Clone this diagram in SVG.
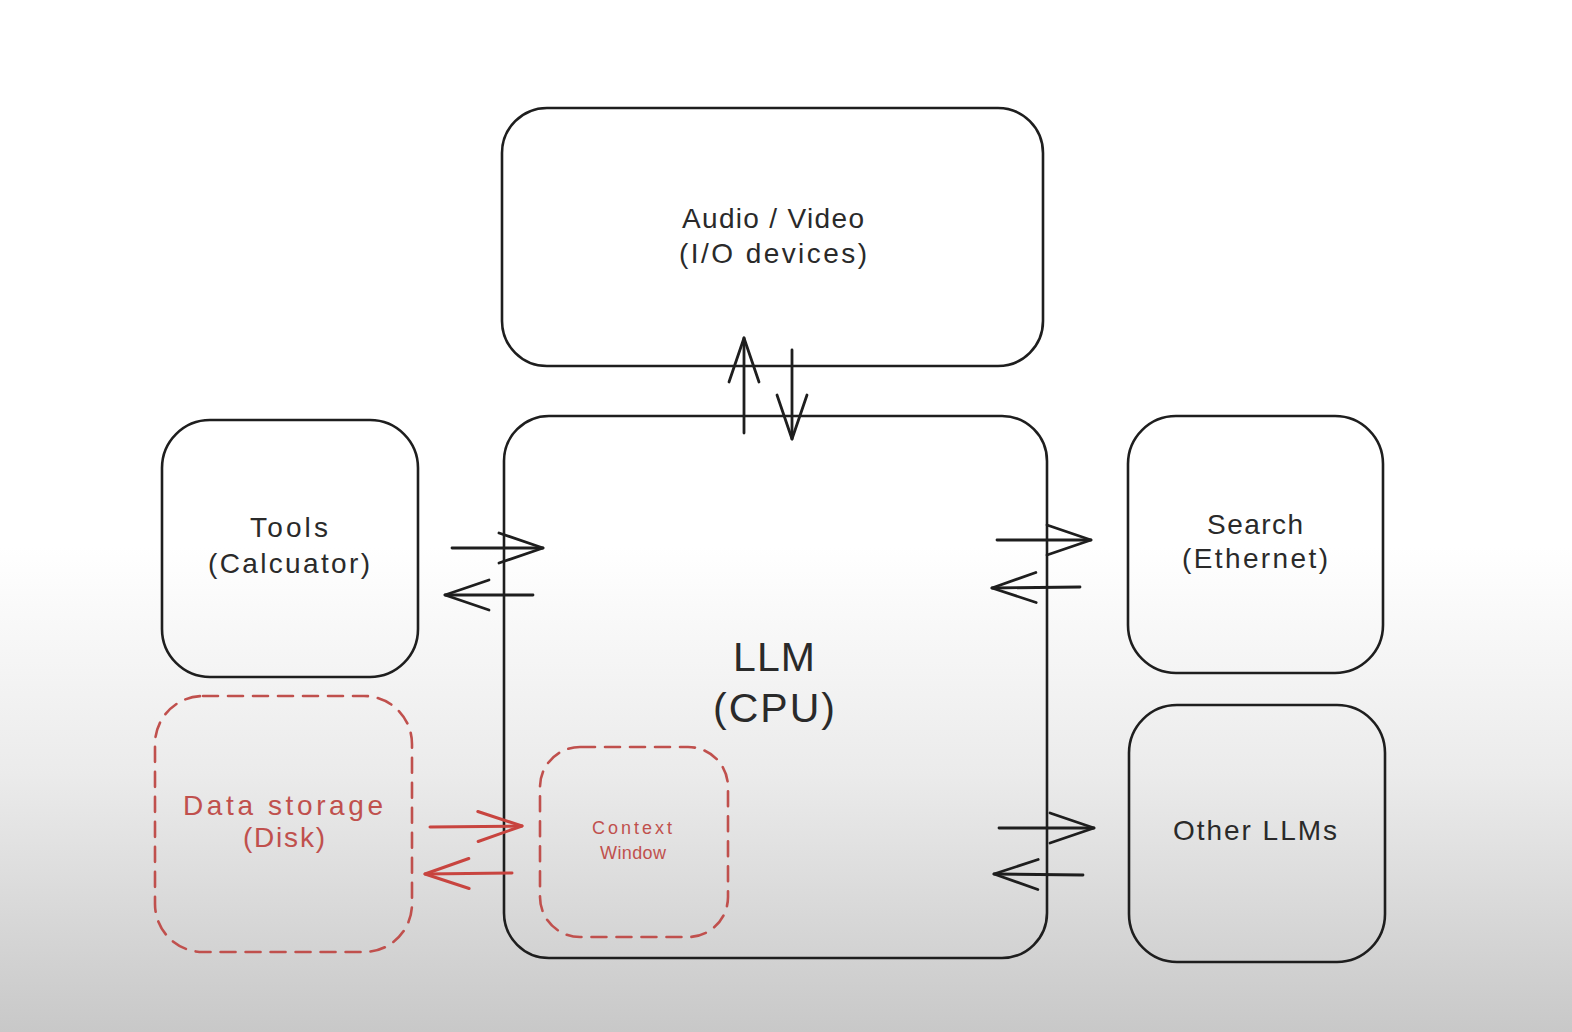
<svg xmlns="http://www.w3.org/2000/svg" width="1572" height="1032" viewBox="0 0 1572 1032">
<style>
.box{fill:none;stroke:#1e1e1e;stroke-width:2.6}
.dbox{fill:none;stroke:#c0504d;stroke-width:2.6;stroke-dasharray:15 10;stroke-linecap:round}
.t{font-family:"Liberation Sans",Arial,sans-serif;font-size:28px;fill:#2a2a2a;text-anchor:middle}
.big{font-size:41px}
.red{fill:#c0504d}
.small{font-size:18px}
.ln{fill:none;stroke:#1e1e1e;stroke-width:2.8;stroke-linecap:round}
.rln{fill:none;stroke:#c8443f;stroke-width:3;stroke-linecap:round}
</style>
<defs>
<linearGradient id="bg" x1="0" y1="0" x2="0" y2="1">
<stop offset="0" stop-color="#ffffff"/>
<stop offset="0.53" stop-color="#ffffff"/>
<stop offset="0.75" stop-color="#ebebeb"/>
<stop offset="1" stop-color="#c8c8c8"/>
</linearGradient>
<marker id="ah" markerUnits="userSpaceOnUse" viewBox="-50 -20 54 40" markerWidth="54" markerHeight="40" refX="0" refY="0" orient="auto">
<path d="M-44,-15 L0,0 L-44,15" fill="none" stroke="#1e1e1e" stroke-width="2.8" stroke-linecap="round" stroke-linejoin="round"/>
</marker>
<marker id="ahr" markerUnits="userSpaceOnUse" viewBox="-50 -20 54 40" markerWidth="54" markerHeight="40" refX="0" refY="0" orient="auto">
<path d="M-44,-15 L0,0 L-44,15" fill="none" stroke="#c8443f" stroke-width="3" stroke-linecap="round" stroke-linejoin="round"/>
</marker>
</defs>
<rect x="0" y="0" width="1572" height="1032" fill="url(#bg)"/>

<g id="audio-video">
<rect class="box" x="502" y="108" width="541" height="258" rx="45"/>
<text class="t" x="773" y="228" textLength="182">Audio / Video</text>
<text class="t" x="773" y="263" textLength="188">(I/O devices)</text>
</g>

<g id="llm">
<rect class="box" x="504" y="416" width="543" height="542" rx="45"/>
<text class="t big" x="774" y="671" textLength="82">LLM</text>
<text class="t big" x="774" y="722" textLength="122">(CPU)</text>
</g>

<g id="tools">
<rect class="box" x="162" y="420" width="256" height="257" rx="48"/>
<text class="t" x="289" y="537" textLength="78">Tools</text>
<text class="t" x="289" y="573" textLength="162">(Calcuator)</text>
</g>

<g id="search">
<rect class="box" x="1128" y="416" width="255" height="257" rx="48"/>
<text class="t" x="1255" y="534" textLength="96">Search</text>
<text class="t" x="1255" y="568" textLength="146">(Ethernet)</text>
</g>

<g id="other-llms">
<rect class="box" x="1129" y="705" width="256" height="257" rx="48"/>
<text class="t" x="1255" y="840" textLength="164">Other LLMs</text>
</g>

<g id="data-storage">
<rect class="dbox" x="155" y="696" width="257" height="256" rx="48"/>
<text class="t red" x="283" y="815" textLength="200">Data storage</text>
<text class="t red" x="284" y="847" textLength="82">(Disk)</text>
</g>

<g id="context-window">
<rect class="dbox" x="540" y="747" width="188" height="190" rx="40"/>
<text class="t red small" x="632" y="834" textLength="80">Context</text>
<text class="t red small" x="633" y="859" textLength="66">Window</text>
</g>

<g id="connectors">
<path class="ln" d="M744,433 L744,338" marker-end="url(#ah)"/>
<path class="ln" d="M792,350 L792,439" marker-end="url(#ah)"/>
<path class="ln" d="M452,548 L543,548" marker-end="url(#ah)"/>
<path class="ln" d="M533,595 L445,595" marker-end="url(#ah)"/>
<path class="ln" d="M997,540 L1091,540" marker-end="url(#ah)"/>
<path class="ln" d="M1080,587 L992,588" marker-end="url(#ah)"/>
<path class="ln" d="M999,828 L1094,828" marker-end="url(#ah)"/>
<path class="ln" d="M1083,875 L994,874" marker-end="url(#ah)"/>
<path class="rln" d="M430,827 L522,826" marker-end="url(#ahr)"/>
<path class="rln" d="M512,873 L425,874" marker-end="url(#ahr)"/>
</g>
</svg>
